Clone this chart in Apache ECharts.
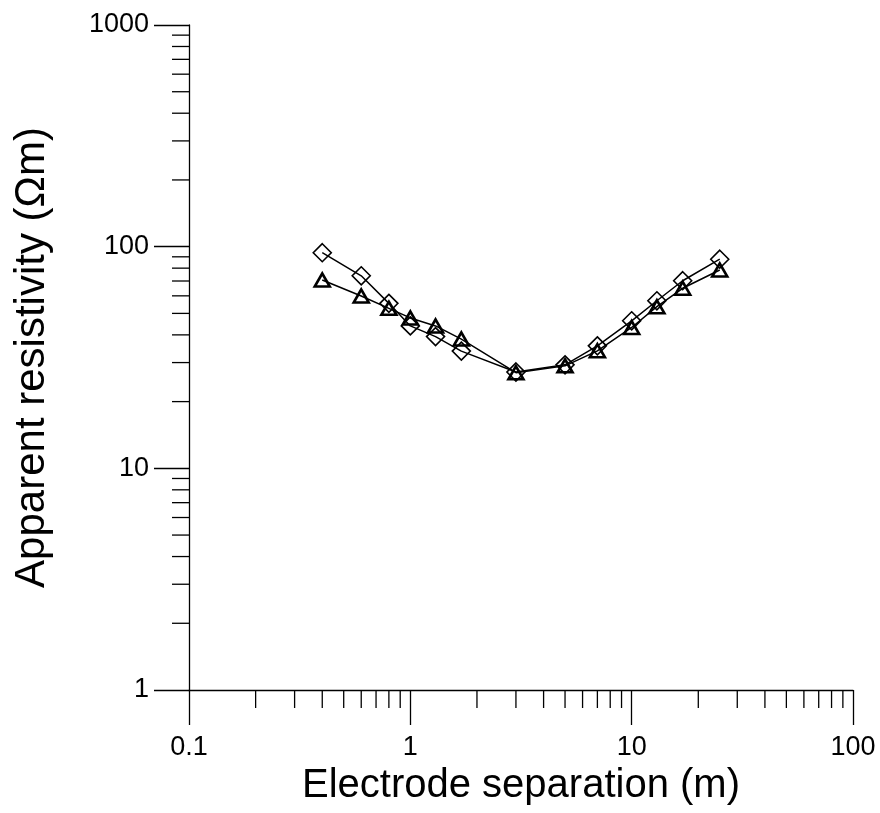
<!DOCTYPE html>
<html><head><meta charset="utf-8">
<script src="https://cdn.jsdelivr.net/npm/echarts@6/dist/echarts.min.js"></script>
<style>html,body{margin:0;padding:0;background:#fff}#c{width:880px;height:813px}</style>
</head><body><div id="c"></div>
<script>
const separation = [0.4, 0.6, 0.8, 1, 1.3, 1.7, 3, 5, 7, 10, 13, 17, 25];
const diamondRho = [93.9, 73.9, 55.5, 43.9, 39.3, 33.8, 27.2, 29.3, 35.7, 46.3, 57.0, 70.2, 87.8];
const triangleRho = [70.7, 59.9, 52.7, 47.7, 43.9, 38.3, 27.0, 29.0, 33.9, 43.2, 53.6, 64.9, 78.5];
const xMinorTicks = [0.2, 0.3, 0.4, 0.5, 0.6, 0.7, 0.8, 0.9, 2, 3, 4, 5, 6, 7, 8, 9, 20, 30, 40, 50, 60, 70, 80, 90];
const yMinorTicks = [2, 3, 4, 5, 6, 7, 8, 9, 20, 30, 40, 50, 60, 70, 80, 90, 200, 300, 400, 500, 600, 700, 800, 900];
const xTitle = 'Electrode separation (m)';
const yTitle = 'Apparent resistivity (\u03A9m)';

const FONT = '"Liberation Sans", Arial, sans-serif';
const chart = echarts.init(document.getElementById('c'), null, {renderer: 'canvas'});
const fmt = v => String(+(+v).toPrecision(6));
const axisCommon = {
  type: 'log', logBase: 10,
  axisLine: {show: true, lineStyle: {color: '#000', width: 1.3}},
  axisTick: {show: true, length: 35, lineStyle: {color: '#000', width: 1.3}},
  splitLine: {show: false},
  nameLocation: 'middle'
};
chart.setOption({
  animation: false,
  backgroundColor: '#fff',
  grid: {left: 189, top: 25, right: 27, bottom: 123, containLabel: false},
  xAxis: Object.assign({}, axisCommon, {
    min: 0.1, max: 100, name: xTitle, nameGap: 75,
    nameTextStyle: {fontFamily: FONT, fontSize: 40, color: '#000'},
    axisLabel: {margin: 44, formatter: fmt, fontFamily: FONT, fontSize: 27, color: '#000'}
  }),
  yAxis: Object.assign({}, axisCommon, {
    min: 1, max: 1000, name: yTitle, nameGap: 136,
    nameTextStyle: {fontFamily: FONT, fontSize: 42, color: '#000'},
    axisLabel: {margin: 40, formatter: fmt, fontFamily: FONT, fontSize: 27, color: '#000'}
  }),
  series: [
    {
      type: 'custom', coordinateSystem: 'cartesian2d', silent: true, clip: false,
      data: xMinorTicks.map(v => [v, 1]),
      renderItem: (params, api) => {
        const p = api.coord([api.value(0), api.value(1)]);
        return {type: 'line', shape: {x1: p[0], y1: p[1], x2: p[0], y2: p[1] + 18},
          style: {stroke: '#000', lineWidth: 1.3}};
      }
    },
    {
      type: 'custom', coordinateSystem: 'cartesian2d', silent: true, clip: false,
      data: yMinorTicks.map(v => [0.1, v]),
      renderItem: (params, api) => {
        const p = api.coord([api.value(0), api.value(1)]);
        return {type: 'line', shape: {x1: p[0] - 17, y1: p[1], x2: p[0], y2: p[1]},
          style: {stroke: '#000', lineWidth: 1.3}};
      }
    },
    {
      type: 'line', name: 'diamond',
      data: separation.map((x, i) => [x, diamondRho[i]]),
      symbol: 'diamond', symbolSize: [18, 18],
      lineStyle: {color: '#000', width: 1.5},
      itemStyle: {color: 'rgba(0,0,0,0)', borderColor: '#000', borderWidth: 1.6},
      z: 3
    },
    {
      type: 'line', name: 'triangle',
      data: separation.map((x, i) => [x, triangleRho[i]]),
      symbol: 'triangle', symbolSize: [15, 13],
      lineStyle: {color: '#000', width: 1.5},
      itemStyle: {color: 'rgba(0,0,0,0)', borderColor: '#000', borderWidth: 2.6},
      z: 4
    }
  ]
});
</script></body></html>
